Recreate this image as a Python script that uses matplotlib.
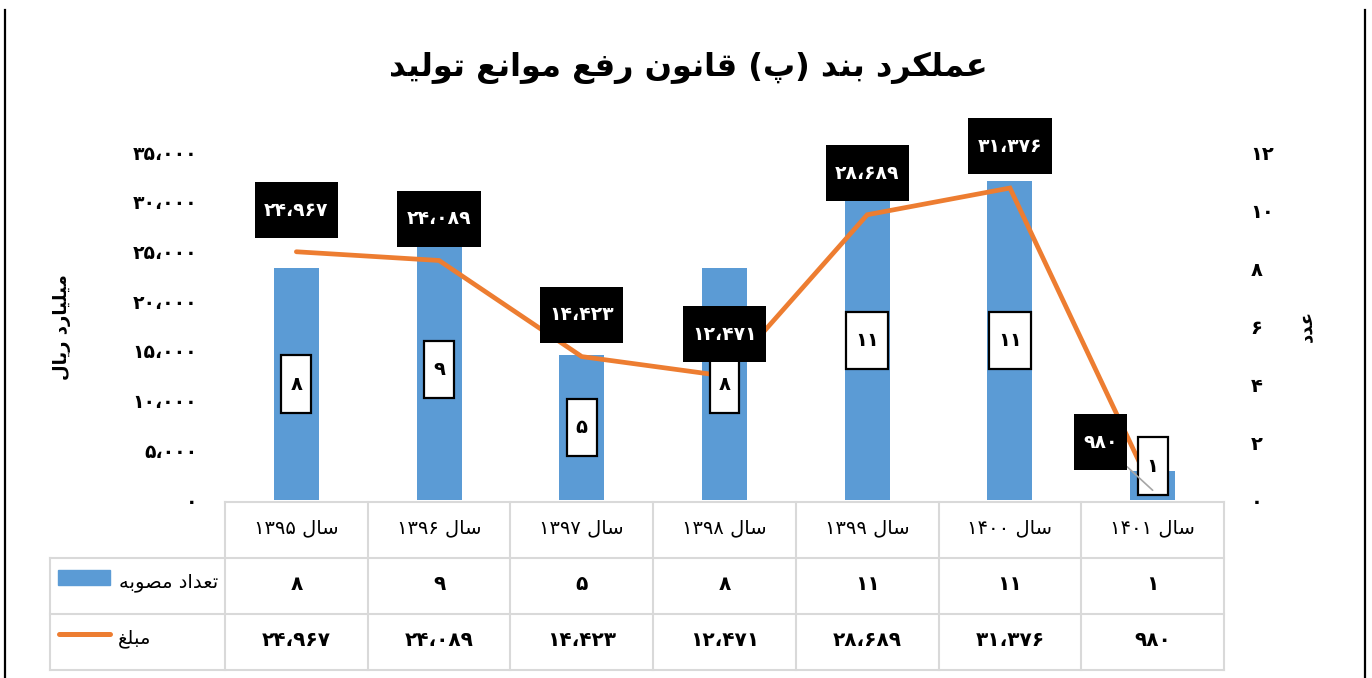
import warnings
import matplotlib
matplotlib.use("Agg")
import matplotlib.pyplot as plt
from matplotlib.path import Path
from matplotlib.lines import Line2D
from matplotlib.patches import Rectangle
import matplotlib.transforms as mtransforms

# ---------------- data ----------------
years = ["۱۳۹۵", "۱۳۹۶", "۱۳۹۷", "۱۳۹۸", "۱۳۹۹", "۱۴۰۰", "۱۴۰۱"]
counts = [8, 9, 5, 8, 11, 11, 1]
amounts = [24967, 24089, 14423, 12471, 28689, 31376, 980]
left_ticks = [0, 5000, 10000, 15000, 20000, 25000, 30000, 35000]
right_ticks = [0, 2, 4, 6, 8, 10, 12]
title_text = "عملکرد بند (پ) قانون رفع موانع تولید"
left_label = "میلیارد ریال"
right_label = "عدد"
year_word = "سال"
row_labels = ["تعداد مصوبه", "مبلغ"]

BAR_COLOR = "#5B9BD5"
LINE_COLOR = "#ED7D31"
GRID_COLOR = "#D9D9D9"

# ---------------- minimal Persian shaping ----------------
FORMS = {
    "ا": ("\uFE8D", "\uFE8E", None, None),
    "ب": ("\uFE8F", "\uFE90", "\uFE91", "\uFE92"),
    "پ": ("\uFB56", "\uFB57", "\uFB58", "\uFB59"),
    "ت": ("\uFE95", "\uFE96", "\uFE97", "\uFE98"),
    "د": ("\uFEA9", "\uFEAA", None, None),
    "ر": ("\uFEAD", "\uFEAE", None, None),
    "س": ("\uFEB1", "\uFEB2", "\uFEB3", "\uFEB4"),
    "ص": ("\uFEB9", "\uFEBA", "\uFEBB", "\uFEBC"),
    "ع": ("\uFEC9", "\uFECA", "\uFECB", "\uFECC"),
    "غ": ("\uFECD", "\uFECE", "\uFECF", "\uFED0"),
    "ف": ("\uFED1", "\uFED2", "\uFED3", "\uFED4"),
    "ق": ("\uFED5", "\uFED6", "\uFED7", "\uFED8"),
    "ک": ("\uFB8E", "\uFB8F", "\uFB90", "\uFB91"),
    "ل": ("\uFEDD", "\uFEDE", "\uFEDF", "\uFEE0"),
    "م": ("\uFEE1", "\uFEE2", "\uFEE3", "\uFEE4"),
    "ن": ("\uFEE5", "\uFEE6", "\uFEE7", "\uFEE8"),
    "ه": ("\uFEE9", "\uFEEA", "\uFEEB", "\uFEEC"),
    "و": ("\uFEED", "\uFEEE", None, None),
    "ی": ("\uFBFC", "\uFBFD", "\uFBFE", "\uFBFF"),
}
DIGITS = set("0123456789۰۱۲۳۴۵۶۷۸۹،")


def shape(word):
    out = []
    n = len(word)
    for i, ch in enumerate(word):
        if ch not in FORMS:
            out.append(ch)
            continue
        prev = word[i - 1] if i > 0 else ""
        nxt = word[i + 1] if i < n - 1 else ""
        jp = prev in FORMS and FORMS[prev][2] is not None
        jn = FORMS[ch][2] is not None and nxt in FORMS
        iso, fin, ini, med = FORMS[ch]
        if jp and jn:
            out.append(med)
        elif jp:
            out.append(fin)
        elif jn:
            out.append(ini)
        else:
            out.append(iso)
    return "".join(out)


def fa(text):
    """Return visual-order string for an RTL Persian text."""
    s = shape(text)
    runs = []
    for ch in s:
        isd = ch in DIGITS
        if runs and runs[-1][0] == isd:
            runs[-1][1].append(ch)
        else:
            runs.append([isd, [ch]])
    parts = []
    for isd, chars in reversed(runs):
        if isd:
            parts.append("".join(chars))
        else:
            seg = "".join(reversed(chars))
            seg = seg.translate(str.maketrans("()", ")("))
            parts.append(seg)
    return "".join(parts)


TR = str.maketrans("0123456789", "۰۱۲۳۴۵۶۷۸۹")


def fnum(v):
    return f"{v:,}".replace(",", "،").translate(TR)


def box_style(padx, half_h):
    def style(x0, y0, width, height, mutation_size):
        cy = y0 + height / 2.0
        px = padx * mutation_size
        hh = half_h * mutation_size
        return Path([(x0 - px, cy - hh), (x0 + width + px, cy - hh),
                     (x0 + width + px, cy + hh), (x0 - px, cy + hh),
                     (x0 - px, cy - hh)], closed=True)
    return style


plt.rcParams["font.family"] = ["DejaVu Sans"]

W, H = 1372, 678
fig = plt.figure(figsize=(W / 100, H / 100), dpi=100)
fig.patch.set_facecolor("white")

ax_l, ax_b, ax_w, ax_h = 225 / W, (H - 500) / H, 999 / W, 348 / H
ax2 = fig.add_axes([ax_l, ax_b, ax_w, ax_h])   # bars, right axis (counts)
ax = fig.add_axes([ax_l, ax_b, ax_w, ax_h], sharex=ax2)  # line, left axis
ax.patch.set_visible(False)

x = list(range(len(years)))

# bars (counts) on right axis
ax2.bar(x, counts, width=0.315, color=BAR_COLOR, zorder=1)
ax2.set_ylim(0, 12)
ax2.set_xlim(-0.5, len(years) - 0.5)
ax2.yaxis.tick_right()
ax2.set_yticks(right_ticks)
ax2.set_yticklabels([str(t).translate(TR) for t in right_ticks],
                    fontsize=14, fontweight="bold")
ax2.tick_params(axis="y", length=0, pad=19)
ax2.set_xticks([])
for sp in ax2.spines.values():
    sp.set_visible(False)

# line (amounts) on left axis
ax.plot(x, amounts, color=LINE_COLOR, lw=3.4, solid_capstyle="round",
        solid_joinstyle="miter", zorder=2)
ax.set_ylim(0, 35000)
ax.set_yticks(left_ticks)
ax.set_yticklabels([fnum(t) for t in left_ticks], fontsize=13.5, fontweight="bold")
ax.tick_params(axis="y", length=0, pad=20)
ax.tick_params(axis="x", length=0, labelbottom=False)
for sp in ax.spines.values():
    sp.set_visible(False)

# bar labels (white boxes)
bar_style = box_style(0.46, 1.47)
for i, c in enumerate(counts):
    dy = 14 if i == len(counts) - 1 else 0
    ax.annotate(str(c).translate(TR), xy=(i, c / 2), xycoords=ax2.transData,
                xytext=(0, dy), textcoords="offset points",
                ha="center", va="center", fontsize=14, fontweight="bold",
                color="black", zorder=5, annotation_clip=False,
                bbox=dict(boxstyle=bar_style, fc="white", ec="black", lw=1.6))

# line labels (black boxes)
line_style = box_style(0.5, 1.49)
for i, a in enumerate(amounts):
    last = i == len(amounts) - 1
    off = (-37.5, 34.5) if last else (0, 30)
    kw = {}
    if last:
        kw["arrowprops"] = dict(arrowstyle="-", color="#A6A6A6", lw=1.2,
                                shrinkA=0, shrinkB=0)
    ax.annotate(fnum(a), xy=(i, a), xytext=off, textcoords="offset points",
                ha="center", va="center", fontsize=13.5, fontweight="bold",
                color="white", zorder=7 if last else 6, annotation_clip=False,
                bbox=dict(boxstyle=line_style, fc="black", ec="none"), **kw)

# axis titles
fig.text(62 / W, 1 - 327 / H, fa(left_label), rotation=90, ha="center",
         va="center", fontsize=13, fontweight="bold")
fig.text(1307 / W, 1 - 326 / H, fa(right_label), rotation=90, ha="center",
         va="center", fontsize=13, fontweight="bold")

# title
fig.text(688 / W, 1 - 68 / H, fa(title_text), ha="center", va="center",
         fontsize=23, fontweight="bold")

# ---------------- data table ----------------
def fy(py):
    return 1 - py / H


def fxcat(v):
    return ax_l + (v + 0.5) / len(years) * ax_w


tbl_left = 50 / W
tbl_right = fxcat(len(years) - 0.5)
row_tops = [502, 558, 614, 670]
lw_grid = 1.5
# horizontal lines
fig.add_artist(Line2D([fxcat(-0.5), tbl_right], [fy(row_tops[0])] * 2,
                      color=GRID_COLOR, lw=lw_grid))
for py in row_tops[1:]:
    fig.add_artist(Line2D([tbl_left, tbl_right], [fy(py)] * 2,
                          color=GRID_COLOR, lw=lw_grid))
# vertical lines
for k in range(len(years) + 1):
    fig.add_artist(Line2D([fxcat(k - 0.5)] * 2, [fy(row_tops[0]), fy(row_tops[-1])],
                          color=GRID_COLOR, lw=lw_grid))
fig.add_artist(Line2D([tbl_left] * 2, [fy(row_tops[1]), fy(row_tops[-1])],
                      color=GRID_COLOR, lw=lw_grid))

T = mtransforms.blended_transform_factory(ax.transData, fig.transFigure)
for i, yr in enumerate(years):
    ax.text(i, fy(528), fa(year_word + " " + yr), transform=T, ha="center",
            va="center", fontsize=14, clip_on=False)
    ax.text(i, fy(585), str(counts[i]).translate(TR), transform=T, ha="center",
            va="center", fontsize=14.5, fontweight="bold", clip_on=False)
    ax.text(i, fy(641), fnum(amounts[i]), transform=T, ha="center",
            va="center", fontsize=14.5, fontweight="bold", clip_on=False)

# row labels with legend keys
fig.text(218 / W, fy(583), fa(row_labels[0]), ha="right", va="center", fontsize=14)
fig.text(151 / W, fy(639), fa(row_labels[1]), ha="right", va="center", fontsize=14)
fig.add_artist(Rectangle((58 / W, fy(585)), 52 / W, 15 / H, color=BAR_COLOR,
                         transform=fig.transFigure))
fig.add_artist(Line2D([59 / W, 110 / W], [fy(634)] * 2, color=LINE_COLOR, lw=3.6,
                      solid_capstyle="round"))

# outer frame lines
fig.add_artist(Line2D([5 / W] * 2, [0, fy(10)], color="black", lw=1.6))
fig.add_artist(Line2D([1365 / W] * 2, [0, fy(10)], color="black", lw=1.6))

with warnings.catch_warnings():
    warnings.simplefilter("default")
    fig.savefig("out.png", dpi=100)
